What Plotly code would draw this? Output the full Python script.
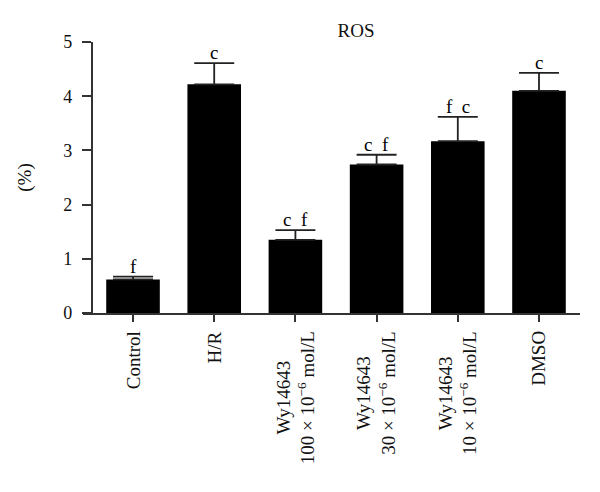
import plotly.graph_objects as go

categories = ["Control", "H/R", "Wy14643<br>100 × 10<sup>−6</sup> mol/L",
              "Wy14643<br>30 × 10<sup>−6</sup> mol/L",
              "Wy14643<br>10 × 10<sup>−6</sup> mol/L", "DMSO"]
values = [0.62, 4.22, 1.35, 2.74, 3.17, 4.10]
errors = [0.05, 0.39, 0.18, 0.18, 0.45, 0.33]
letters = ["f", "c", "c\u00a0\u00a0f", "c\u00a0\u00a0f", "f\u00a0\u00a0c", "c"]
y_ticks = [0, 1, 2, 3, 4, 5]

FONT = "Liberation Serif"
x = list(range(len(categories)))

fig = go.Figure()
fig.add_trace(go.Bar(
    x=x, y=values, width=0.66,
    marker=dict(color="black", line=dict(width=0)),
    error_y=dict(type="data", array=errors, arrayminus=[0] * len(errors),
                 symmetric=False, color="#222", thickness=1.8, width=20),
    showlegend=False,
))

for i, (v, e, t) in enumerate(zip(values, errors, letters)):
    fig.add_annotation(
        x=i, xref="x", y=v + e, yref="y", text=t, showarrow=False,
        xanchor="center", yanchor="bottom", yshift=-2,
        font=dict(family=FONT, size=19, color="black"),
    )

for i, c in enumerate(categories):
    fig.add_annotation(
        x=i, xref="x", y=-0.06, yref="paper", text=c, textangle=-90,
        showarrow=False, xanchor="center", yanchor="top", align="center",
        font=dict(family=FONT, size=19, color="#111"),
    )

fig.update_layout(
    width=600, height=492,
    margin=dict(l=75, r=28, t=34, b=187),
    plot_bgcolor="white", paper_bgcolor="white",
    title=dict(text="ROS", x=0.58, xanchor="center", y=0.955, yanchor="middle",
               font=dict(family=FONT, size=19, color="#111")),
    font=dict(family=FONT, size=18, color="#111"),
)
fig.update_xaxes(
    range=[-0.616, 5.505], tickvals=x, showticklabels=False,
    showline=True, linecolor="#333", linewidth=2,
    ticks="outside", ticklen=7, tickwidth=2, tickcolor="#333",
    showgrid=False, zeroline=False,
)
fig.update_yaxes(
    range=[0, 5], tickvals=y_ticks, anchor="free", position=0.018,
    showline=True, linecolor="#333", linewidth=2,
    ticks="outside", ticklen=9, tickwidth=2, tickcolor="#333",
    showgrid=False, zeroline=False, ticklabelstandoff=6,
    title=dict(text="(%)", standoff=26, font=dict(family=FONT, size=19)),
    tickfont=dict(family=FONT, size=18),
)

fig.write_html("out.html")
